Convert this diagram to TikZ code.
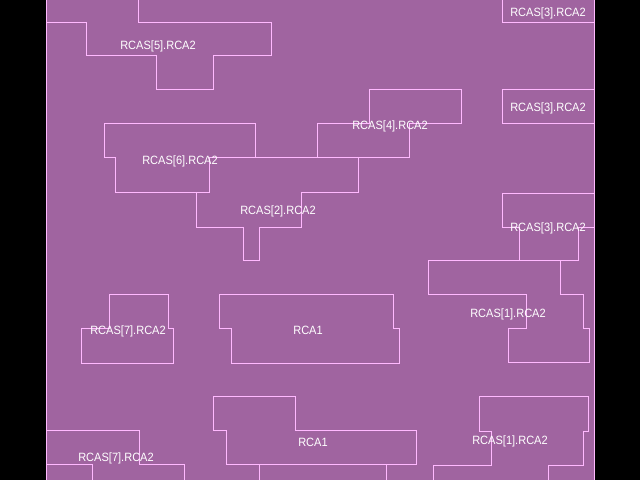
\documentclass[tikz,border=0pt]{standalone}
\usepackage{fontspec}
\newfontfamily\lblfont{Liberation Sans}[FakeStretch=0.92]
\definecolor{bgpurple}{RGB}{160,100,160}
\definecolor{edgepink}{RGB}{255,185,255}
\tikzset{
  outline/.style={draw=edgepink, line width=1pt, line join=miter},
  cell/.style={text=white, font=\lblfont\fontsize{12}{13}\selectfont, inner sep=0pt, yshift=-1.5pt}
}
\begin{document}
\begin{tikzpicture}[x=1pt,y=-1pt]
\useasboundingbox (0,0) rectangle (640,480);
\fill[black] (0,0) rectangle (640,480);
\fill[bgpurple] (46,0) rectangle (594,480);
% frame edges
\draw[outline] (46,0) -- (46,480);
\draw[outline] (594,0) -- (594,480);
% top row
\draw[outline] (46,22) -- (86,22) -- (86,55) -- (156,55) -- (156,89) -- (213,89) -- (213,55) -- (271,55) -- (271,22) -- (138,22) -- (138,0);
\draw[outline] (502,0) -- (502,22) -- (594,22);
\draw[outline] (594,89) -- (502,89) -- (502,123) -- (594,123);
% RCAS[4]
\draw[outline] (369,89) -- (461,89) -- (461,123) -- (409,123) -- (409,157) -- (317,157) -- (317,123) -- (369,123) -- cycle;
% RCAS[6]
\draw[outline] (104,123) -- (255,123) -- (255,157) -- (209,157) -- (209,192) -- (115,192) -- (115,157) -- (104,157) -- cycle;
% RCAS[2]
\draw[outline] (209,157) -- (358,157) -- (358,192) -- (301,192) -- (301,227) -- (259,227) -- (259,260) -- (243,260) -- (243,227) -- (196,227) -- (196,192) -- (209,192);
% RCAS[3] third
\draw[outline] (594,193) -- (502,193) -- (502,227) -- (519,227) -- (519,260) -- (578,260) -- (578,227) -- (594,227);
% RCAS[1] upper
\draw[outline] (428,260) -- (560,260) -- (560,294) -- (583,294) -- (583,328) -- (589,328) -- (589,362) -- (508,362) -- (508,328) -- (526,328) -- (526,294) -- (428,294) -- cycle;
% RCAS[7] upper
\draw[outline] (109,294) -- (168,294) -- (168,328) -- (173,328) -- (173,363) -- (81,363) -- (81,328) -- (109,328) -- cycle;
% RCA1 upper
\draw[outline] (219,294) -- (393,294) -- (393,328) -- (399,328) -- (399,363) -- (231,363) -- (231,328) -- (219,328) -- cycle;
% RCA1 lower
\draw[outline] (213,396) -- (295,396) -- (295,430) -- (416,430) -- (416,464) -- (226,464) -- (226,430) -- (213,430) -- cycle;
\draw[outline] (259,464) -- (259,480);
\draw[outline] (386,464) -- (386,480);
% RCAS[1] lower
\draw[outline] (433,480) -- (433,465) -- (491,465) -- (491,431) -- (479,431) -- (479,396) -- (588,396) -- (588,431) -- (583,431) -- (583,465) -- (548,465) -- (548,480);
% RCAS[7] lower
\draw[outline] (46,430) -- (139,430) -- (139,464) -- (184,464) -- (184,480);
\draw[outline] (46,464) -- (92,464) -- (92,480);
% labels
\node[cell] (l3a) at (548,12) {RCAS[3].RCA2};
\node[cell] (l5) at (158,45) {RCAS[5].RCA2};
\node[cell] (l3b) at (548,107) {RCAS[3].RCA2};
\node[cell] (l4) at (390,125) {RCAS[4].RCA2};
\node[cell] (l6) at (180,160) {RCAS[6].RCA2};
\node[cell] (l2) at (278,210) {RCAS[2].RCA2};
\node[cell] (l3c) at (548,227) {RCAS[3].RCA2};
\node[cell] (l7a) at (128,330) {RCAS[7].RCA2};
\node[cell] (r1a) at (308,329) {RCA1};
\node[cell] (l1a) at (508,313) {RCAS[1].RCA2};
\node[cell] (r1b) at (313,441) {RCA1};
\node[cell] (l1b) at (510,440) {RCAS[1].RCA2};
\node[cell] (l7b) at (116,457) {RCAS[7].RCA2};
\end{tikzpicture}
\end{document}
